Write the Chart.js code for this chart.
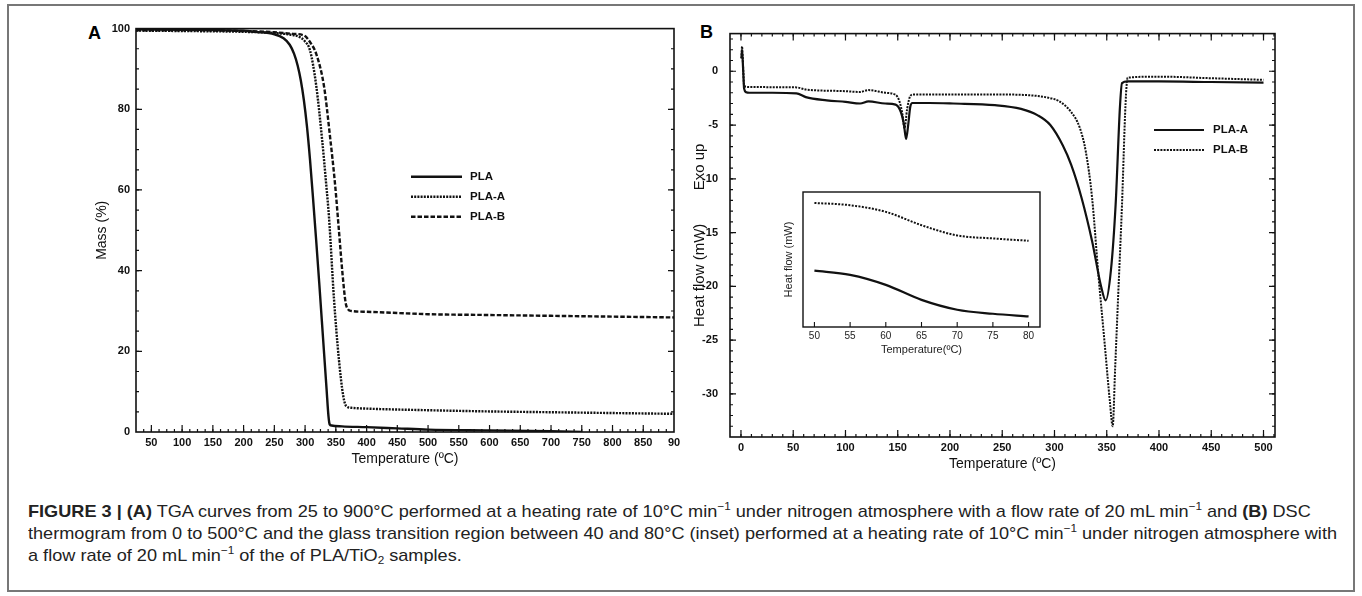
<!DOCTYPE html>
<html>
<head>
<meta charset="utf-8">
<script src="https://cdn.jsdelivr.net/npm/chart.js@4.4.1/dist/chart.umd.min.js"></script>
<style>
    body { margin: 0; background: #fff; }
    #fig { position: relative; width: 1362px; height: 596px; overflow: hidden; background: #fff; font-family: 'Liberation Sans', Arial, sans-serif; }
    #frame { position: absolute; left: 7px; top: 4px; width: 1344px; height: 584px; border: 2px solid #777; }
    canvas { position: absolute; }
    .panel { position: absolute; font: bold 18px 'Liberation Sans', Arial, sans-serif; line-height: 18px; color: #000; }
    .cap { position: absolute; left: 28px; white-space: nowrap; font-size: 17px; line-height: 22px; color: #222; transform-origin: 0 50%; }
    .cap sup { font-size: 11px; vertical-align: 7px; line-height: 0; }
    .cap sub { font-size: 11px; vertical-align: -3px; line-height: 0; }
</style>
</head>
<body>
<div id="fig">
    <div id="frame"></div>
    <div class="panel" style="left:88px;top:24px;">A</div>
    <div class="panel" style="left:700px;top:23px;">B</div>
    <canvas id="tga" width="596" height="460" style="left:90px;top:16px;"></canvas>
    <canvas id="dsc" width="600" height="466" style="left:687px;top:15px;"></canvas>
    <canvas id="inset" width="268" height="175" style="left:778px;top:186px;"></canvas>
    <div class="cap" style="top:501px;"><b>FIGURE 3 | (A)</b> TGA curves from 25 to 900°C performed at a heating rate of 10°C min<sup>−1</sup> under nitrogen atmosphere with a flow rate of 20 mL min<sup>−1</sup> and <b>(B)</b> DSC</div>
    <div class="cap" style="top:523px;">thermogram from 0 to 500°C and the glass transition region between 40 and 80°C (inset) performed at a heating rate of 10°C min<sup>−1</sup> under nitrogen atmosphere with</div>
    <div class="cap" style="top:545px;">a flow rate of 20 mL min<sup>−1</sup> of the of PLA/TiO<sub>2</sub> samples.</div>
</div>
<script>
// Panel A - TGA, mass (%) vs temperature
const plaTemp  = [25, 100, 200, 219, 250, 265, 275, 282, 288, 293, 298, 303, 308, 313, 318, 323, 330, 335, 338, 340, 343, 360, 400, 450, 500, 600, 700, 750];
const plaMass  = [99.8, 99.7, 99.5, 99.2, 98.6, 97.6, 96, 93.8, 90.8, 87.2, 82.3, 75.8, 67.5, 57.8, 47.6, 37, 21.5, 10.5, 4, 1.9, 1.6, 1.4, 1.2, 0.9, 0.6, 0.4, 0.2, 0];
const plaATemp = [25, 100, 200, 250, 280, 291, 300, 308, 318, 328, 334, 339, 347, 355, 362, 367, 375, 400, 500, 600, 700, 800, 900];
const plaAMass = [99.5, 99.4, 99.2, 98.9, 98.4, 97.9, 96.8, 94.6, 86, 72, 62, 53, 33, 18, 9, 6.4, 6.0, 5.8, 5.4, 5.1, 4.9, 4.7, 4.5];
const plaBTemp = [25, 100, 200, 250, 280, 298, 310, 318, 331, 340, 349, 355, 361, 366, 370, 375, 400, 450, 500, 600, 700, 800, 900];
const plaBMass = [99.6, 99.6, 99.4, 99.1, 98.7, 98.3, 96.2, 93.8, 85.5, 74, 61, 50, 39, 32, 30.4, 30.0, 29.8, 29.5, 29.2, 29.0, 28.8, 28.6, 28.4];
const tgaTicks = [50, 100, 150, 200, 250, 300, 350, 400, 450, 500, 550, 600, 650, 700, 750, 800, 850, 900];
const tgaTickLabels = ['50', '100', '150', '200', '250', '300', '350', '400', '450', '500', '550', '600', '650', '700', '750', '800', '850', '90'];
const massTicks = [0, 20, 40, 60, 80, 100];

// Panel B - DSC, heat flow (mW) vs temperature
const dscATemp = [0.5, 1, 2, 3, 5, 8, 30, 53, 62, 82, 100, 114, 122, 138, 148, 153, 156, 158, 160, 162, 164, 180, 203, 243, 268, 284, 296, 308, 316, 326, 336, 344.6, 349, 354, 358.5, 362.7, 364.6, 370, 400, 450, 500];
const dscAFlow = [1.2, 2.0, 0.3, -1.6, -1.95, -2.0, -2.0, -2.05, -2.4, -2.7, -2.85, -3.0, -2.8, -3.0, -3.1, -3.8, -5.0, -6.3, -5.0, -3.3, -2.95, -2.95, -3.0, -3.15, -3.5, -4.1, -5.0, -6.9, -8.7, -11.8, -15.8, -20.0, -21.3, -18.5, -12.4, -3.2, -1.1, -0.95, -0.95, -1.0, -1.05];
const dscBTemp = [0.5, 1, 2, 3, 5, 8, 53, 62, 100, 114, 122, 138, 148, 152, 154.5, 156.5, 159, 162, 165, 203, 243, 270, 284, 296, 304, 316, 324, 330, 336, 342, 348, 353, 355.7, 358, 361, 364.6, 368, 370, 400, 450, 500];
const dscBFlow = [1.2, 2.3, 0.5, -1.3, -1.45, -1.47, -1.5, -1.7, -1.85, -1.93, -1.75, -2.0, -2.2, -2.9, -4.0, -5.3, -3.5, -2.3, -2.15, -2.15, -2.15, -2.2, -2.3, -2.5, -2.76, -3.8, -5.2, -7.5, -11.8, -18.9, -25.3, -30.7, -33.0, -27.7, -20.7, -12.4, -3.0, -0.6, -0.5, -0.65, -0.8];
const dscTicks = [0, 50, 100, 150, 200, 250, 300, 350, 400, 450, 500];
const heatTicks = [0, -5, -10, -15, -20, -25, -30];

// Inset - glass transition region (arbitrary heat flow units)
const insetTemp = [50, 55, 60, 65, 70, 75, 80];
const insetFlowA = [41.7, 38.6, 31.2, 20.1, 12.8, 9.8, 7.8];
const insetFlowB = [91.9, 90.2, 85.3, 75.4, 67.8, 65.6, 63.9];
const insetTicks = [50, 55, 60, 65, 70, 75, 80];

const family = "'Liberation Sans', Arial, sans-serif";
const ink = '#111';
const boldTick = { family, size: 11, weight: 'bold' };

const pts = (xs, ys) => xs.map((x, i) => ({ x, y: ys[i] }));
const useTicks = (vals) => (scale) => { scale.ticks = vals.map(v => ({ value: v })); };
const fixW = (w) => (scale) => { scale.width = w; };
const fixH = (h) => (scale) => { scale.height = h; };

// frame box plus inward major / minor tick marks
const frameTicks = {
    id: 'frameTicks',
    afterDatasetsDraw(chart, args, o) {
        const { ctx, chartArea: a, scales } = chart;
        ctx.save();
        ctx.strokeStyle = ink;
        ctx.lineWidth = o.width;
        ctx.strokeRect(a.left, a.top, a.right - a.left, a.bottom - a.top);
        ctx.lineWidth = o.tickWidth;
        const marks = (scale, list, sides) => {
            list.forEach(({ step, len }) => {
                const first = Math.ceil(scale.min / step - 1e-9) * step;
                for (let v = first; v <= scale.max + 1e-9; v += step) {
                    const p = scale.getPixelForValue(v);
                    if (scale.isHorizontal() && (p < a.left + 1 || p > a.right - 1)) continue;
                    if (!scale.isHorizontal() && (p < a.top + 1 || p > a.bottom - 1)) continue;
                    ctx.beginPath();
                    sides.forEach(s => {
                        if (s === 'bottom') { ctx.moveTo(p, a.bottom); ctx.lineTo(p, a.bottom - len); }
                        if (s === 'top') { ctx.moveTo(p, a.top); ctx.lineTo(p, a.top + len); }
                        if (s === 'left') { ctx.moveTo(a.left, p); ctx.lineTo(a.left + len, p); }
                        if (s === 'right') { ctx.moveTo(a.right, p); ctx.lineTo(a.right - len, p); }
                    });
                    ctx.stroke();
                }
            });
        };
        if (o.x) marks(scales.x, o.x, o.xSides);
        if (o.y) marks(scales.y, o.y, o.ySides);
        ctx.restore();
    }
};

// legend drawn as line samples with labels
const lineLegend = {
    id: 'lineLegend',
    afterDatasetsDraw(chart, args, o) {
        if (!o.show) return;
        const ctx = chart.ctx;
        chart.data.datasets.forEach((ds, i) => {
            const yy = o.y + i * o.gap;
            ctx.save();
            ctx.strokeStyle = ds.borderColor;
            ctx.lineWidth = ds.borderWidth;
            ctx.setLineDash(ds.borderDash || []);
            ctx.beginPath();
            ctx.moveTo(o.x1, yy);
            ctx.lineTo(o.x2, yy);
            ctx.stroke();
            ctx.setLineDash([]);
            ctx.fillStyle = ink;
            ctx.font = o.font;
            ctx.textBaseline = 'middle';
            ctx.fillText(ds.label, o.x2 + o.pad, yy);
            ctx.restore();
        });
    }
};

Chart.register(frameTicks, lineLegend);

const baseOptions = () => ({
    responsive: false,
    animation: false,
    events: [],
    elements: { point: { radius: 0 }, line: { cubicInterpolationMode: 'monotone', fill: false } },
    plugins: { legend: { display: false }, tooltip: { enabled: false } }
});

// Panel A
const tgaOpts = baseOptions();
tgaOpts.layout = { padding: { top: 12, right: 12, bottom: 4, left: 0 } };
tgaOpts.plugins.frameTicks = {
    width: 1.6, tickWidth: 1.2,
    x: [{ step: 50, len: 7 }, { step: 12.5, len: 3 }], xSides: ['bottom'],
    y: [{ step: 20, len: 6 }, { step: 5, len: 3 }], ySides: ['left', 'right']
};
tgaOpts.plugins.lineLegend = { show: true, x1: 321, x2: 372, pad: 8, y: 160.7, gap: 20, font: `bold 11.5px ${family}` };
tgaOpts.scales = {
    x: {
        type: 'linear', min: 25, max: 900,
        afterBuildTicks: useTicks(tgaTicks), afterFit: fixH(40),
        grid: { display: false, drawTicks: false }, border: { display: false },
        ticks: { autoSkip: false, maxRotation: 0, padding: 4, color: ink, font: boldTick, callback: (v, i) => tgaTickLabels[i] },
        title: { display: true, text: 'Temperature (ºC)', color: ink, font: { family, size: 14 }, padding: { top: 4, bottom: 4 } }
    },
    y: {
        min: 0, max: 100,
        afterBuildTicks: useTicks(massTicks), afterFit: fixW(46),
        grid: { display: false, drawTicks: false }, border: { display: false },
        ticks: { padding: 6, color: ink, font: boldTick },
        title: { display: true, text: 'Mass (%)', color: ink, font: { family, size: 14 }, padding: { top: 4, bottom: 4 } }
    }
};

new Chart(document.getElementById('tga'), {
    type: 'line',
    data: {
        datasets: [
            { label: 'PLA', data: pts(plaTemp, plaMass), borderColor: ink, borderWidth: 2.4, borderDash: [] },
            { label: 'PLA-A', data: pts(plaATemp, plaAMass), borderColor: ink, borderWidth: 2.4, borderDash: [2, 1.2] },
            { label: 'PLA-B', data: pts(plaBTemp, plaBMass), borderColor: ink, borderWidth: 2.4, borderDash: [4.5, 2] }
        ]
    },
    options: tgaOpts
});

// Panel B
const dscOpts = baseOptions();
dscOpts.layout = { padding: { top: 12, right: 12, bottom: 4, left: 0 } };
dscOpts.plugins.frameTicks = {
    width: 1.6, tickWidth: 1.2,
    x: [{ step: 50, len: 7 }, { step: 10, len: 3 }], xSides: ['bottom', 'top'],
    y: [{ step: 5, len: 6 }, { step: 1, len: 3 }], ySides: ['left', 'right']
};
dscOpts.plugins.lineLegend = { show: true, x1: 467, x2: 517, pad: 9, y: 115, gap: 20, font: `bold 11.5px ${family}` };
dscOpts.scales = {
    x: {
        type: 'linear', min: -10.5, max: 511,
        afterBuildTicks: useTicks(dscTicks), afterFit: fixH(40),
        grid: { display: false, drawTicks: false }, border: { display: false },
        ticks: { autoSkip: false, maxRotation: 0, padding: 4, color: ink, font: boldTick },
        title: { display: true, text: 'Temperature (ºC)', color: ink, font: { family, size: 14 }, padding: { top: 4, bottom: 4 } }
    },
    y: {
        min: -34, max: 3.5,
        afterBuildTicks: useTicks(heatTicks), afterFit: fixW(43),
        grid: { display: false, drawTicks: false }, border: { display: false },
        ticks: { padding: 12, color: ink, font: boldTick },
        title: { display: true, text: 'Heat flow (mW)        Exo up', color: ink, font: { family, size: 15 }, padding: { top: 4, bottom: 4 } }
    }
};

new Chart(document.getElementById('dsc'), {
    type: 'line',
    data: {
        datasets: [
            { label: 'PLA-A', data: pts(dscATemp, dscAFlow), borderColor: ink, borderWidth: 2.2, borderDash: [] },
            { label: 'PLA-B', data: pts(dscBTemp, dscBFlow), borderColor: ink, borderWidth: 2, borderDash: [2, 1.2] }
        ]
    },
    options: dscOpts
});

// Inset
const insetOpts = baseOptions();
insetOpts.layout = { padding: { top: 6, right: 6, bottom: 2, left: 0 } };
insetOpts.plugins.frameTicks = {
    width: 1.4, tickWidth: 1.1,
    x: [{ step: 5, len: 5 }], xSides: ['bottom']
};
insetOpts.scales = {
    x: {
        type: 'linear', min: 48.4, max: 81.6,
        afterBuildTicks: useTicks(insetTicks), afterFit: fixH(32),
        grid: { display: false, drawTicks: false }, border: { display: false },
        ticks: { autoSkip: false, maxRotation: 0, padding: 3, color: '#222', font: { family, size: 10 } },
        title: { display: true, text: 'Temperature(ºC)', color: '#222', font: { family, size: 11 }, padding: { top: 2, bottom: 2 } }
    },
    y: {
        min: 0, max: 100,
        afterFit: fixW(25),
        grid: { display: false, drawTicks: false }, border: { display: false },
        ticks: { display: false },
        title: { display: true, text: 'Heat flow (mW)', color: '#222', font: { family, size: 11 }, padding: { top: 4, bottom: 4 } }
    }
};

new Chart(document.getElementById('inset'), {
    type: 'line',
    data: {
        datasets: [
            { label: 'PLA-A', data: pts(insetTemp, insetFlowA), borderColor: ink, borderWidth: 2.2, borderDash: [] },
            { label: 'PLA-B', data: pts(insetTemp, insetFlowB), borderColor: ink, borderWidth: 2, borderDash: [2, 1.4] }
        ]
    },
    options: insetOpts
});

// one common horizontal squeeze for the caption, fitted on the second line
const caps = document.querySelectorAll('.cap');
const capScale = (1337 - 28) / caps[1].getBoundingClientRect().width;
caps.forEach(el => { el.style.transform = `scaleX(${capScale})`; });
</script>
</body>
</html>
